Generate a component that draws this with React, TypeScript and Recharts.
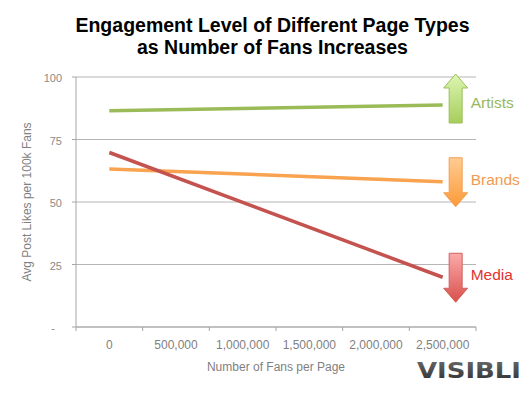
import { LineChart, Line, XAxis, YAxis, CartesianGrid, ReferenceDot } from 'recharts'

// fan counts (category centres) and the boundaries between them
const fanCats = [0, 500000, 1000000, 1500000, 2000000, 2500000]
const fanEdges = [-250000, 250000, 750000, 1250000, 1750000, 2250000, 2750000]
const yTicks = [0, 25, 50, 75, 100]

// only the two ends of each trend are drawn in the original
const artists = [86.5, null, null, null, null, 88.8]
const brands = [63.2, null, null, null, null, 58.1]
const media = [69.8, null, null, null, null, 19.9]

const seriesNames = ['Artists', 'Brands', 'Media']
const trend = ['up', 'down', 'down']

const LINE_COLORS: Record<string, string> = { Artists: '#9bbb59', Brands: '#f9a24f', Media: '#c4524e' }
const LABEL_COLORS: Record<string, string> = { Artists: '#98b860', Brands: '#f29a52', Media: '#e2332f' }
const ARROW_FILLS: Record<string, [string, string, string]> = {
  Artists: ['#dcf6b2', '#a7cd5c', '#9cbf58'],
  Brands: ['#ffcc92', '#fb9a38', '#f2a052'],
  Media: ['#fbaaaa', '#d9504c', '#d06260'],
}

const FONT = '"Liberation Sans", Arial, sans-serif'
const GRAY = '#a6a6a6'

const data = fanCats.map((x, i) => ({ x, Artists: artists[i], Brands: brands[i], Media: media[i] }))
const lastX = fanCats[fanCats.length - 1]
const ends = [artists, brands, media].map(s => s[s.length - 1] as number)

function XTick(props: any) {
  const { x, y, payload } = props
  const v = payload.value
  if (fanEdges.includes(v)) {
    return <line x1={x} x2={x} y1={y} y2={y + 4} stroke={GRAY} />
  }
  return (
    <text x={x} y={y + 22} textAnchor="middle" fontSize={12} fill="#7f7f7f" fontFamily={FONT}>
      {v.toLocaleString('en-US')}
    </text>
  )
}

function YTick(props: any) {
  const { x, y, payload } = props
  const v = payload.value
  return (
    <text x={x - (v === 0 ? 7 : 0)} y={y + 5} textAnchor="end" fontSize={11} fill="#8a8a8a" fontFamily={FONT}>
      {v === 0 ? '-' : v}
    </text>
  )
}

function arrowShape(name: string, dir: string) {
  return (props: any) => {
    const { cx, cy } = props
    const ax = cx + 13
    const top = dir === 'up' ? cy - 31 : cy - 24
    const bot = top + 49
    const hh = 14, hw = 12, sw = 6.5
    const d = dir === 'up'
      ? `M${ax},${top} L${ax + hw},${top + hh} L${ax + sw},${top + hh} L${ax + sw},${bot} L${ax - sw},${bot} L${ax - sw},${top + hh} L${ax - hw},${top + hh} Z`
      : `M${ax},${bot} L${ax + hw},${bot - hh} L${ax + sw},${bot - hh} L${ax + sw},${top} L${ax - sw},${top} L${ax - sw},${bot - hh} L${ax - hw},${bot - hh} Z`
    const [c1, c2, st] = ARROW_FILLS[name]
    const gid = `grad-${name}`
    return (
      <g>
        <defs>
          <linearGradient id={gid} x1="0" y1="0" x2="0" y2="1">
            <stop offset="0%" stopColor={c1} />
            <stop offset="100%" stopColor={c2} />
          </linearGradient>
        </defs>
        <path d={d} fill={`url(#${gid})`} stroke={st} strokeWidth={1} />
        <text x={cx + 28} y={cy + 3} fontSize={15.5} fill={LABEL_COLORS[name]} fontFamily={FONT}>
          {name}
        </text>
      </g>
    )
  }
}

export default function App() {
  return (
    <div style={{ position: 'absolute', left: 0, top: 0, width: 531, height: 396, background: '#fff' }}>
      <div style={{
        position: 'absolute', left: 0, top: 14, width: 545, textAlign: 'center',
        fontFamily: FONT, fontWeight: 'bold', fontSize: 19.5, lineHeight: '22px', color: '#000',
      }}>
        Engagement Level of Different Page Types<br />as Number of Fans Increases
      </div>
      <LineChart width={531} height={396} data={data} margin={{ top: 77, right: 55, left: 0, bottom: 0 }}>
        <CartesianGrid vertical={false} stroke="#b5b5b5" />
        <XAxis
          dataKey="x" type="number" domain={[-250000, 2750000]}
          ticks={[...fanEdges, ...fanCats].sort((a, b) => a - b)}
          tick={<XTick />} tickLine={false} tickSize={0} tickMargin={0}
          axisLine={{ stroke: GRAY }} height={69} interval={0}
          label={(p: any) => {
            const vb = p.viewBox
            return (
              <text x={vb.x + vb.width / 2} y={vb.y + 44} textAnchor="middle" fontSize={12} fill="#7f7f7f" fontFamily={FONT}>
                Number of Fans per Page
              </text>
            )
          }}
        />
        <YAxis
          domain={[0, 100]} ticks={yTicks} width={76} tickSize={4} tickMargin={10}
          tickLine={{ stroke: GRAY }} axisLine={{ stroke: GRAY }} tick={<YTick />} interval={0}
          label={(p: any) => {
            const vb = p.viewBox
            const cx = vb.x + 31, cy = vb.y + vb.height / 2
            return (
              <text x={cx} y={cy} transform={`rotate(-90 ${cx} ${cy})`} textAnchor="middle" fontSize={12} fill="#7f7f7f" fontFamily={FONT}>
                Avg Post Likes per 100k Fans
              </text>
            )
          }}
        />
        {seriesNames.map(n => (
          <Line key={n} dataKey={n} stroke={LINE_COLORS[n]} strokeWidth={3.5} dot={false}
            connectNulls isAnimationActive={false} activeDot={false} />
        ))}
        {seriesNames.map((n, i) => (
          <ReferenceDot key={`a-${n}`} x={lastX} y={ends[i]} r={0} shape={arrowShape(n, trend[i])} />
        ))}
      </LineChart>
      <svg style={{ position: 'absolute', left: 0, top: 0 }} width={531} height={396} pointerEvents="none">
        <defs>
          <linearGradient id="logo" x1="0" y1="0" x2="0" y2="1">
            <stop offset="0%" stopColor="#6a6a6a" />
            <stop offset="100%" stopColor="#2e2e2e" />
          </linearGradient>
        </defs>
        <text x={417} y={378} fontSize={21} fontWeight="bold" fontFamily='"DejaVu Sans", sans-serif'
          fill="url(#logo)" textLength={104} lengthAdjust="spacingAndGlyphs">
          VISIBLI
        </text>
      </svg>
    </div>
  )
}
